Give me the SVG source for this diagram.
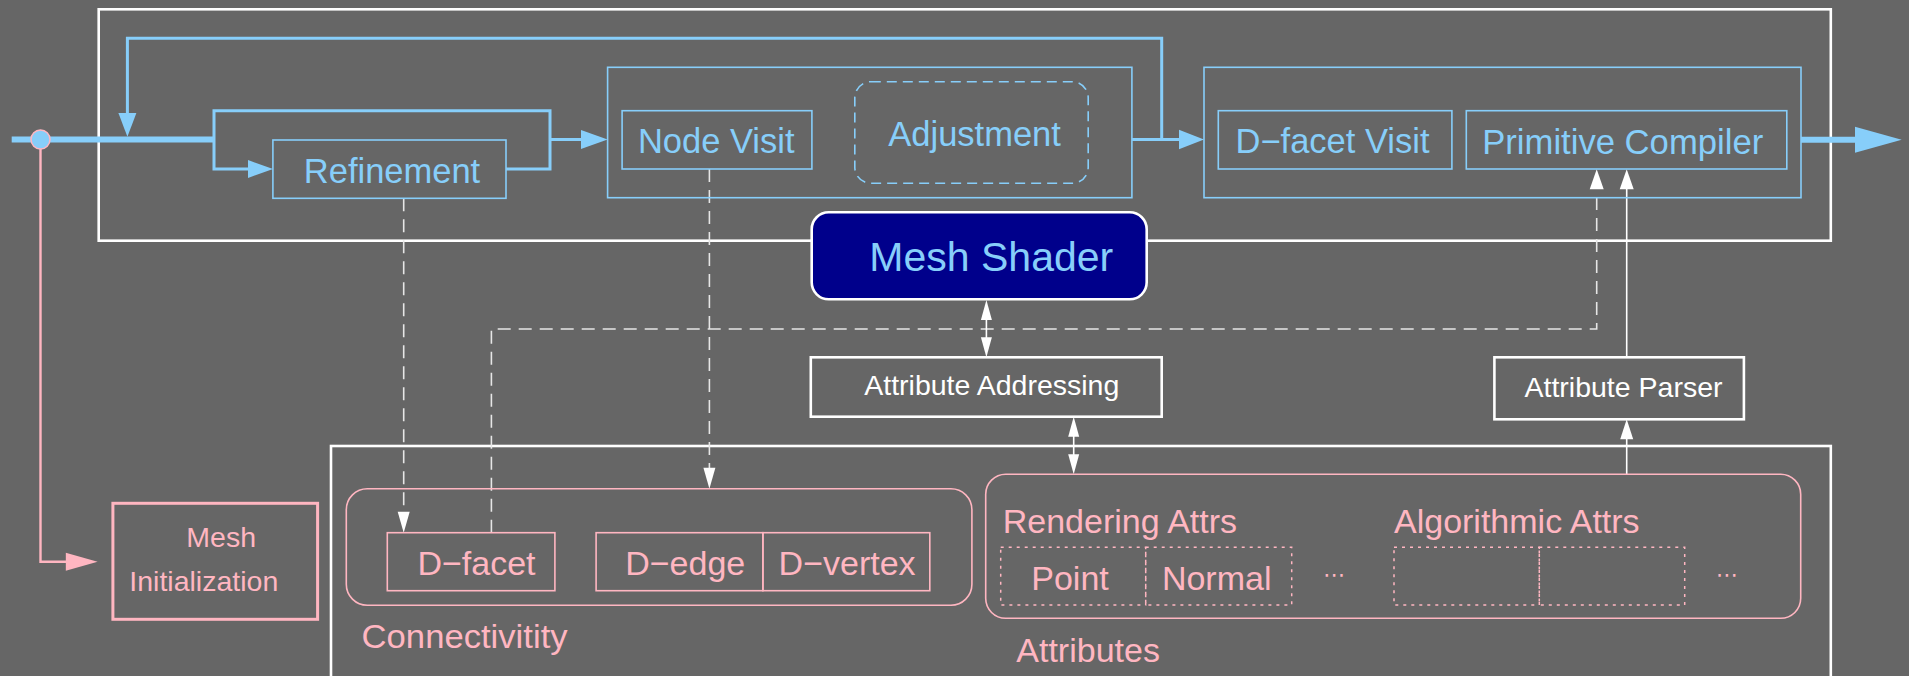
<svg xmlns="http://www.w3.org/2000/svg" width="1909" height="676" viewBox="0 0 1909 676">
<style>
.bl{fill:none;stroke:#87CEFA;stroke-width:1.6}
.pk{fill:none;stroke:#FFB6C1;stroke-width:1.6}
.wh{fill:none;stroke:#FFFFFF;stroke-width:2.6}
.dot{fill:none;stroke:#FFB6C1;stroke-width:1.5;stroke-dasharray:3 5}
.tb{font-family:"Liberation Sans",Arial,sans-serif;font-size:34.5px;fill:#87CEFA}
.tp{font-family:"Liberation Sans",Arial,sans-serif;font-size:34px;fill:#FFB6C1}
.tw{font-family:"Liberation Sans",Arial,sans-serif;font-size:28.5px;fill:#FFFFFF}
.mid{text-anchor:middle}
.cb{fill:none;stroke:#87CEFA;stroke-width:3}
.cbt{fill:none;stroke:#87CEFA;stroke-width:6}
.cw{fill:none;stroke:#FFFFFF;stroke-width:1.6}
.cwd{fill:none;stroke:#E6E6E6;stroke-width:1.6;stroke-dasharray:13 8}
.cp{fill:none;stroke:#FFB6C1;stroke-width:2.4}
.ab{fill:#87CEFA}
.aw{fill:#FFFFFF}
.ap{fill:#FFB6C1}
.ell{font-family:"DejaVu Sans",sans-serif;font-size:22px;fill:#FFB6C1;text-anchor:middle}
</style>
<rect x="0" y="0" width="1909" height="676" fill="#666666"/>

<g id="pipeline-frame"><rect class="wh" x="98.7" y="9.3" width="1732.1" height="231.4"/></g>
<g id="data-frame"><rect class="wh" x="331" y="446" width="1499.8" height="260"/></g>

<g id="connectors">
  <path class="cbt" d="M11.7,139.5 H214"/>
  <path class="cb" d="M214,139.5 V169 H250 M214,139.5 V110.7 H550 V169 H506 M550,139.5 H582"/>
  <polygon class="ab" points="248,160 273,169 248,178"/>
  <polygon class="ab" points="581,130 607.6,139.5 581,149"/>
  <path class="cb" d="M1132,139.5 H1179 M1161.7,139.5 V38.3 H127.4 V114"/>
  <polygon class="ab" points="118.4,113 127.4,136.7 136.4,113"/>
  <polygon class="ab" points="1179,129.8 1204,139.5 1179,149.2"/>
  <path class="cbt" d="M1801,139.7 H1856"/>
  <polygon class="ab" points="1855,126.7 1901.7,139.7 1855,152.7"/>

  <path class="cp" d="M40.5,149 V561.7 H66"/>
  <polygon class="ap" points="65.8,552.7 97.6,561.7 65.8,570.7"/>

  <path class="cwd" d="M403.7,198.3 V513"/>
  <polygon class="aw" points="397.7,511.7 403.7,532.7 409.7,511.7"/>
  <path class="cwd" d="M709.4,169 V469"/>
  <polygon class="aw" points="703.4,467.7 709.4,488.7 715.4,467.7"/>
  <path class="cwd" d="M491.4,532.7 V329 H1596.7 V189"/>
  <polygon class="aw" points="1589.7,189.3 1596.7,169.3 1603.7,189.3"/>

  <path class="cw" d="M1626.7,357.3 V189"/>
  <polygon class="aw" points="1619.7,189.3 1626.7,169.3 1633.7,189.3"/>
  <path class="cw" d="M1626.7,474.3 V438"/>
  <polygon class="aw" points="1620.2,439.3 1626.7,419.3 1633.2,439.3"/>

  <path class="cw" d="M986.4,318 V339"/>
  <polygon class="aw" points="980.9,320 986.4,300 991.9,320"/>
  <polygon class="aw" points="980.9,337.3 986.4,357.3 991.9,337.3"/>
  <path class="cw" d="M1073.7,435 V456"/>
  <polygon class="aw" points="1068.2,436.7 1073.7,416.7 1079.2,436.7"/>
  <polygon class="aw" points="1068.2,454.3 1073.7,474.3 1079.2,454.3"/>
</g>

<g id="junction"><circle cx="40.5" cy="139.5" r="9.5" fill="#87CEFA" stroke="#FFB6C1" stroke-width="1.5"/></g>

<g id="refinement">
  <rect class="bl" x="272.9" y="140" width="233.1" height="58.3"/>
  <text class="tb mid" x="392" y="183">Refinement</text>
</g>
<g id="node-group"><rect class="bl" x="607.6" y="67.3" width="524.3" height="130.4"/></g>
<g id="node-visit">
  <rect class="bl" x="622.1" y="110.7" width="189.8" height="58.3"/>
  <text class="tb mid" x="716.2" y="153">Node Visit</text>
</g>
<g id="adjustment">
  <rect class="bl" x="854.8" y="81.7" width="233.4" height="101.6" rx="16" stroke-dasharray="10 6"/>
  <text class="tb mid" x="974.6" y="145.7">Adjustment</text>
</g>
<g id="dfacet-group"><rect class="bl" x="1204" y="67.3" width="597" height="130.4"/></g>
<g id="dfacet-visit">
  <rect class="bl" x="1218.3" y="110.7" width="233.6" height="58.3"/>
  <text class="tb mid" x="1332.5" y="153">D−facet Visit</text>
</g>
<g id="primitive-compiler">
  <rect class="bl" x="1466.3" y="110.7" width="320.5" height="58.3"/>
  <text class="tb mid" x="1622.7" y="154.3" textLength="281" lengthAdjust="spacingAndGlyphs">Primitive Compiler</text>
</g>
<g id="mesh-shader">
  <rect x="811.7" y="212.3" width="335" height="87" rx="17" fill="#00008B" stroke="#FFFFFF" stroke-width="2.6"/>
  <text class="tb mid" x="991.3" y="271" style="font-size:41px">Mesh Shader</text>
</g>
<g id="attribute-addressing">
  <rect class="wh" x="810.8" y="357.3" width="350.9" height="59.4"/>
  <text class="tw mid" x="991.8" y="395">Attribute Addressing</text>
</g>
<g id="attribute-parser">
  <rect class="wh" x="1494.4" y="357.3" width="249.5" height="62"/>
  <text class="tw mid" x="1623.5" y="396.7">Attribute Parser</text>
</g>
<g id="mesh-initialization">
  <rect class="pk" x="112.9" y="503.3" width="204.7" height="116" style="stroke-width:3"/>
  <text class="tw mid" x="221.2" y="546.7" style="fill:#FFB6C1">Mesh</text>
  <text class="tw mid" x="203.8" y="590.7" style="fill:#FFB6C1">Initialization</text>
</g>
<g id="connectivity">
  <rect class="pk" x="346.3" y="488.7" width="625.6" height="116.6" rx="21"/>
  <text class="tp" x="361.6" y="648.3" textLength="206" lengthAdjust="spacingAndGlyphs">Connectivitity</text>
</g>
<g id="d-facet">
  <rect class="pk" x="387.3" y="532.7" width="167.6" height="58"/>
  <text class="tp mid" x="476.5" y="575">D−facet</text>
</g>
<g id="d-edge">
  <rect class="pk" x="596.1" y="532.7" width="166.8" height="58"/>
  <text class="tp mid" x="685.2" y="575">D−edge</text>
</g>
<g id="d-vertex">
  <rect class="pk" x="762.9" y="532.7" width="166.9" height="58"/>
  <text class="tp mid" x="847.1" y="575">D−vertex</text>
</g>
<g id="attributes">
  <rect class="pk" x="985.7" y="474.3" width="815" height="144" rx="20"/>
  <text class="tp" x="1016.3" y="661.7">Attributes</text>
</g>
<g id="rendering-attrs">
  <text class="tp" x="1002.7" y="532.7">Rendering Attrs</text>
  <rect class="dot" x="1000.7" y="547.3" width="145" height="57.7"/>
  <text class="tp mid" x="1070" y="590">Point</text>
  <rect class="dot" x="1145.7" y="547.3" width="146" height="57.7"/>
  <text class="tp mid" x="1216.7" y="590">Normal</text>
  <text class="ell" x="1334" y="582">⋯</text>
</g>
<g id="algorithmic-attrs">
  <text class="tp" x="1394" y="532.7">Algorithmic Attrs</text>
  <rect class="dot" x="1394" y="547.3" width="145.3" height="57.7"/>
  <rect class="dot" x="1539.3" y="547.3" width="145.4" height="57.7"/>
  <text class="ell" x="1726.7" y="582">⋯</text>
</g>
</svg>
